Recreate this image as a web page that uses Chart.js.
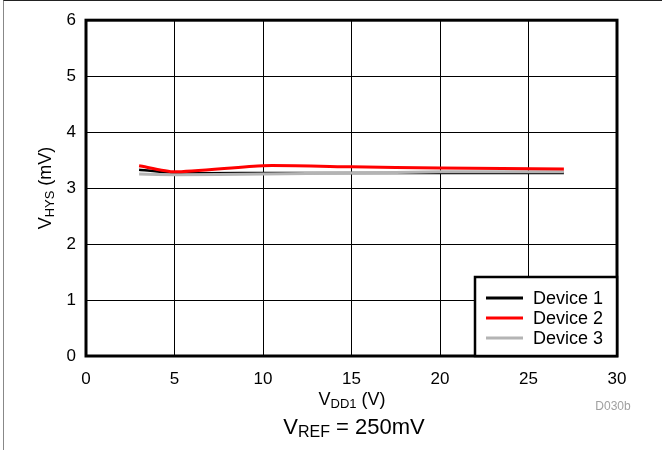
<!DOCTYPE html>
<html lang="en">
<head>
  <meta charset="UTF-8" />
  <title>VHYS vs VDD1</title>
  <style>
    html, body { margin: 0; padding: 0; background: #fff; }
    #wrap {
      position: relative;
      width: 662px;
      height: 450px;
      overflow: hidden;
    }
    #frame {
      position: absolute;
      left: 3px; top: 0; width: 700px; height: 500px;
      border-left: 1px solid #888;
      border-top: 1px solid #222;
      pointer-events: none;
    }
    canvas { position: absolute; left: 0; top: 0; }
  </style>
</head>
<body>
  <div id="wrap">
    <canvas id="chart" width="662" height="450"></canvas>
    <div id="frame"></div>
  </div>

  <script src="https://cdn.jsdelivr.net/npm/chart.js"></script>
  <script>
    // values
    const vdd1 = [3, 5, 10, 15, 20, 27];
    const device1 = [3.33, 3.27, 3.27, 3.27, 3.27, 3.27];
    const device2 = [3.40, 3.29, 3.40, 3.38, 3.36, 3.34];
    const device3 = [3.25, 3.24, 3.25, 3.27, 3.29, 3.29];
    const seriesNames = ['Device 1', 'Device 2', 'Device 3'];
    const seriesColors = ['#000000', '#ff0000', '#b4b4b4'];
    const xTicks = [0, 5, 10, 15, 20, 25, 30];
    const yTicks = [0, 1, 2, 3, 4, 5, 6];

    const pts = arr => arr.map((v, i) => ({ x: vdd1[i], y: v }));

    // text with a subscript part, centred on x
    function subText(ctx, parts, x, y, big, small, drop) {
      let w = 0;
      parts.forEach(p => { ctx.font = p.sub ? small : big; w += ctx.measureText(p.t).width; });
      let cx = x - w / 2;
      ctx.textAlign = 'left';
      ctx.textBaseline = 'middle';
      parts.forEach(p => {
        ctx.font = p.sub ? small : big;
        ctx.fillText(p.t, cx, p.sub ? y + drop : y);
        cx += ctx.measureText(p.t).width;
      });
    }

    const decor = {
      id: 'decor',
      afterDatasetsDraw(chart) {
        const ctx = chart.ctx;
        const a = chart.chartArea;
        ctx.save();
        // plot frame
        ctx.strokeStyle = '#000';
        ctx.lineWidth = 3;
        ctx.strokeRect(a.left, a.top, a.right - a.left, a.bottom - a.top);

        // legend box
        const lx = 475, ly = 277, lw = a.right - 475, lh = a.bottom - 277;
        ctx.fillStyle = '#fff';
        ctx.fillRect(lx, ly, lw, lh);
        ctx.lineWidth = 2.5;
        ctx.strokeRect(lx, ly, lw, lh);
        chart.data.datasets.forEach((ds, i) => {
          const y = 298 + i * 20;
          ctx.strokeStyle = ds.borderColor;
          ctx.lineWidth = 3;
          ctx.beginPath();
          ctx.moveTo(486, y);
          ctx.lineTo(523, y);
          ctx.stroke();
          ctx.fillStyle = '#000';
          ctx.font = '18px Arial';
          ctx.textAlign = 'left';
          ctx.textBaseline = 'middle';
          ctx.fillText(ds.label, 533, y + 1);
        });

        // axis titles
        ctx.fillStyle = '#000';
        subText(ctx, [{ t: 'V' }, { t: 'DD1', sub: true }, { t: ' (V)' }], 352, 400, '18px Arial', '13px Arial', 4);
        ctx.save();
        ctx.translate(46, 188);
        ctx.rotate(-Math.PI / 2);
        subText(ctx, [{ t: 'V' }, { t: 'HYS', sub: true }, { t: ' (mV)' }], 0, 0, '18px Arial', '13px Arial', 4);
        ctx.restore();

        // condition note
        subText(ctx, [{ t: 'V' }, { t: 'REF', sub: true }, { t: ' = 250mV' }], 354, 428, '22px Arial', '16px Arial', 5);

        // figure id
        ctx.fillStyle = '#a0a0a0';
        ctx.font = '12px Arial';
        ctx.textAlign = 'center';
        ctx.textBaseline = 'middle';
        ctx.fillText('D030b', 613, 407);
        ctx.restore();
      }
    };

    new Chart(document.getElementById('chart').getContext('2d'), {
      type: 'line',
      data: {
        datasets: [
          { label: seriesNames[0], data: pts(device1), borderColor: seriesColors[0], borderWidth: 2.5, order: 3 },
          { label: seriesNames[1], data: pts(device2), borderColor: seriesColors[1], borderWidth: 3, order: 1 },
          { label: seriesNames[2], data: pts(device3), borderColor: seriesColors[2], borderWidth: 3, order: 2 }
        ]
      },
      options: {
        responsive: false,
        animation: false,
        events: [],
        elements: { point: { radius: 0 }, line: { tension: 0.2, fill: false } },
        layout: { padding: { top: 19, right: 45, left: 0, bottom: 0 } },
        plugins: { legend: { display: false }, tooltip: { enabled: false } },
        scales: {
          x: {
            type: 'linear',
            min: 0, max: 30,
            afterBuildTicks: s => { s.ticks = xTicks.map(v => ({ value: v })); },
            afterFit: s => { s.height = 94; },
            grid: { color: '#000', lineWidth: 1, drawTicks: false },
            border: { display: false },
            ticks: { color: '#000', font: { family: 'Arial', size: 17 }, padding: 13, maxRotation: 0 }
          },
          y: {
            min: 0, max: 6,
            afterBuildTicks: s => { s.ticks = yTicks.map(v => ({ value: v })); },
            afterFit: s => { s.width = 86; },
            grid: { color: '#000', lineWidth: 1, drawTicks: false },
            border: { display: false },
            ticks: { color: '#000', font: { family: 'Arial', size: 17 }, padding: 10 }
          }
        }
      },
      plugins: [decor]
    });
  </script>
</body>
</html>
